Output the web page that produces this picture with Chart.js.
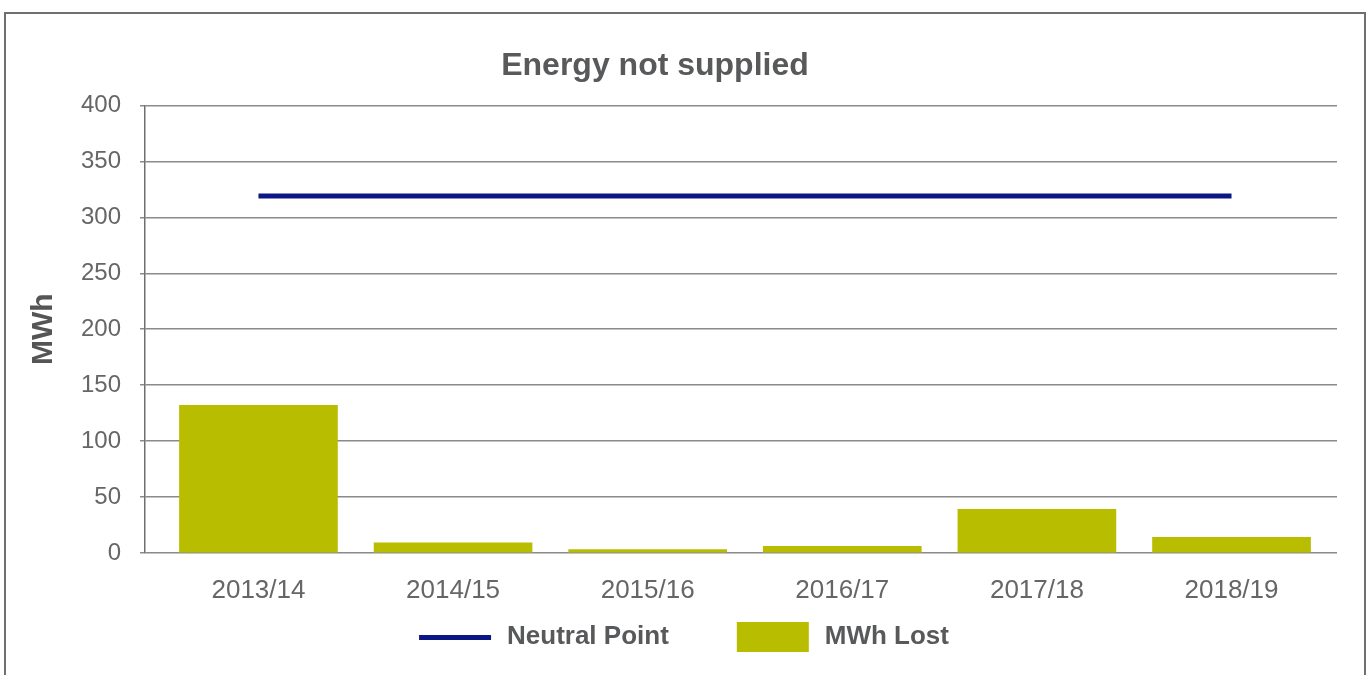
<!DOCTYPE html>
<html>
<head>
<meta charset="utf-8">
<script src="https://cdn.jsdelivr.net/npm/chart.js@4"></script>
<style>
  html,body{margin:0;padding:0;background:#fff;overflow:hidden;}
  #frame{position:absolute;left:4px;top:12px;width:1362px;height:720px;border:2px solid #6f6f6f;box-sizing:border-box;}
  #wrap{position:absolute;left:0;top:0;width:1371px;height:675px;}
</style>
</head>
<body>
<div id="frame"></div>
<div id="wrap"><canvas id="c" width="1371" height="675"></canvas></div>
<script>
const categories = ['2013/14','2014/15','2015/16','2016/17','2017/18','2018/19'];
const mwhLost = [132, 9, 3, 6, 39, 14];
const neutralPoint = [319, 319, 319, 319, 319, 319];
const yTicks = [0, 50, 100, 150, 200, 250, 300, 350, 400];

const FONT = '"Liberation Sans", Arial, Helvetica, sans-serif';
const NAVY = '#0b1785';
const OLIVE = '#b8bd00';

// legend swatch images: box of width 133, swatch sits at its right side
function makeImg(kind){
  const c = document.createElement('canvas');
  c.width = 133; c.height = 30;
  const g = c.getContext('2d');
  if (kind === 'line'){ g.fillStyle = NAVY; g.fillRect(58, 13, 72, 5); }
  else { g.fillStyle = OLIVE; g.fillRect(58, 0, 72, 30); }
  return c;
}
const lineImg = makeImg('line');
const boxImg = makeImg('box');

new Chart(document.getElementById('c'), {
  data: {
    datasets: [
      {
        type: 'line',
        label: 'Neutral Point',
        data: neutralPoint.map((v,i)=>({x:i, y:v})),
        borderColor: NAVY,
        backgroundColor: NAVY,
        borderWidth: 5,
        pointRadius: 0,
        fill: false,
        order: 0
      },
      {
        type: 'bar',
        label: 'MWh Lost',
        data: mwhLost.map((v,i)=>({x:i, y:v})),
        backgroundColor: OLIVE,
        borderWidth: 0,
        barThickness: 158,
        order: 1
      }
    ]
  },
  options: {
    responsive: false,
    animation: false,
    devicePixelRatio: 1,
    layout: { padding: { left: -27, right: 34, top: 0, bottom: 15 } },
    plugins: {
      title: {
        display: true,
        text: 'Energy not supplied',
        color: '#58595b',
        font: { family: FONT, size: 32, weight: 'bold' },
        padding: { top: 47, bottom: 20 }
      },
      legend: {
        position: 'bottom',
        labels: {
          usePointStyle: true,
          pointStyleWidth: 133,
          boxHeight: 30,
          padding: 10,
          color: '#58595b',
          font: { family: FONT, size: 26, weight: 'bold' },
          generateLabels: () => [
            { text: 'Neutral Point', pointStyle: lineImg, fillStyle: NAVY, strokeStyle: NAVY, lineWidth: 0, datasetIndex: 0, hidden: false, fontColor: '#58595b' },
            { text: 'MWh Lost', pointStyle: boxImg, fillStyle: OLIVE, strokeStyle: OLIVE, lineWidth: 0, datasetIndex: 1, hidden: false, fontColor: '#58595b' }
          ]
        }
      },
      tooltip: { enabled: false }
    },
    scales: {
      x: {
        type: 'linear',
        offset: false,
        min: -0.583,
        max: 5.542,
        afterBuildTicks: (s) => { s.ticks = categories.map((c,i)=>({value:i})); },
        afterFit: (s) => { s.height = 61; },
        ticks: {
          callback: (v) => categories[v],
          color: '#666666',
          font: { family: FONT, size: 26 },
          padding: 22,
          maxRotation: 0,
          autoSkip: false
        },
        grid: { display: false, drawTicks: false, offset: false },
        border: { display: false }
      },
      y: {
        min: 0,
        max: 400,
        afterBuildTicks: (s) => { s.ticks = yTicks.map(v=>({value:v})); },
        afterFit: (s) => { s.width = 172; },
        ticks: {
          color: '#666666',
          font: { family: FONT, size: 24 },
          padding: 19
        },
        grid: { color: '#8a8a8a', lineWidth: 1.5, tickLength: 5, drawTicks: true },
        border: { display: true, color: '#6f6f6f', width: 1.5 },
        title: {
          display: true,
          text: 'MWh',
          color: '#555555',
          font: { family: FONT, size: 30, weight: 'bold' },
          padding: { top: 53, bottom: 0 }
        }
      }
    }
  }
});
</script>
</body>
</html>
